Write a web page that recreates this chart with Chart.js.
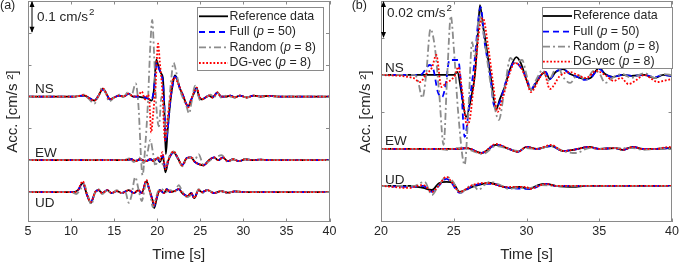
<!DOCTYPE html>
<html><head><meta charset="utf-8">
<script src="https://cdn.jsdelivr.net/npm/chart.js@4.4.1/dist/chart.umd.min.js"></script>
<style>
html,body{margin:0;padding:0;background:#fff;width:681px;height:264px;overflow:hidden}
.p{position:absolute;top:0}
</style></head><body>
<div class="p" style="left:0;width:340px;height:264px"><canvas id="ca" width="340" height="264"></canvas></div>
<div class="p" style="left:340px;width:341px;height:264px"><canvas id="cb" width="341" height="264"></canvas></div>
<script>
// ---------------- DATA ----------------
const seriesLabels = ['Reference data', 'Full (p = 50)', 'Random (p = 8)', 'DG-vec (p = 8)'];
const components = ['NS', 'EW', 'UD'];
const xTicksA = [5, 10, 15, 20, 25, 30, 35, 40];
const xTicksB = [20, 25, 30, 35, 40];
const offsetsA = [0.3, 0.1, 0];      // cm/s^2, vertical offset of NS, EW, UD traces
const offsetsB = [0.06, 0.02, 0];
const scaleBarA = 0.1;               // cm/s^2
const scaleBarB = 0.02;

// traces: [time (s), acceleration (1e-3 cm/s^2)]
// ---- panel (a) ----
const aNS_ref = [[5,0],[10.5,0],[11,2],[11.5,3],[12,-3],[12.7,-13],[13.2,3],[13.7,25],[14.1,9],[14.5,-9],[15,-3],[15.6,3],[16.1,0],[16.7,9],[17.2,0],[17.8,0],[18.3,-3],[18.9,-6],[19.35,-13],[19.6,16],[19.9,116],[20.15,94],[20.45,72],[20.65,60],[20.82,-30],[21.0,-181],[21.2,-109],[21.5,-22],[21.8,38],[22.05,66],[22.3,56],[22.6,28],[23.0,3],[23.35,-22],[23.6,-31],[23.9,-13],[24.3,13],[24.55,28],[24.85,0],[25.2,-9],[25.6,-3],[26.0,3],[26.4,-3],[27.0,13],[27.4,0],[28,0],[28.5,3],[29,-3],[29.6,3],[30.4,-3],[31.2,3],[32,0],[33,2],[34,0],[40,0]];
const aNS_full = [[5,0],[10.5,0],[11,2],[11.5,3],[12,-3],[12.7,-13],[13.2,3],[13.7,22],[14.1,9],[14.5,-9],[15,-3],[15.6,3],[16.1,0],[16.7,9],[17.2,0],[17.8,0],[18.3,0],[18.9,-6],[19.35,-9],[19.6,19],[19.95,106],[20.2,88],[20.5,66],[20.68,40],[20.85,-40],[21.0,-141],[21.25,-94],[21.5,-19],[21.8,38],[22.05,63],[22.3,56],[22.6,28],[23.0,3],[23.35,-22],[23.6,-31],[23.9,-13],[24.3,13],[24.55,25],[24.85,0],[25.2,-9],[25.6,-3],[26.0,3],[26.4,-3],[27.0,13],[27.4,0],[28,0],[28.5,3],[29,-3],[29.6,3],[30.4,-3],[31.2,3],[32,0],[33,2],[34,0],[40,0]];
const aNS_rand = [[5,0],[10.5,0],[11,3],[11.5,6],[12,-6],[12.7,-22],[13.2,3],[13.6,28],[14.1,6],[14.4,-16],[15,-3],[15.6,6],[16.1,0],[16.6,13],[17.0,3],[17.5,41],[17.8,-20],[18.3,-247],[18.6,-160],[18.9,-30],[19.2,160],[19.42,241],[19.65,125],[19.9,-31],[20.2,-94],[20.5,0],[20.7,-16],[21.0,-125],[21.3,-47],[21.6,47],[21.9,106],[22.2,78],[22.6,25],[23.0,-6],[23.4,-31],[23.7,-53],[24.0,-16],[24.4,34],[24.7,9],[25.0,-13],[25.4,-6],[25.8,0],[26.2,6],[26.6,-3],[27.0,13],[27.4,-3],[28,3],[28.5,0],[29,-3],[29.6,3],[30.4,-3],[31.2,3],[32,0],[34,0],[40,0]];
const aNS_dg = [[5,0],[10.5,0],[11,2],[11.5,5],[12,-3],[12.7,-13],[13.2,3],[13.7,25],[14.1,9],[14.5,-9],[15,-3],[15.6,3],[16.1,0],[16.7,9],[17.2,0],[17.8,3],[18.2,16],[18.6,-9],[18.9,6],[19.1,-16],[19.3,-113],[19.5,-63],[19.8,31],[20.1,166],[20.3,109],[20.6,16],[20.9,-138],[21.15,-84],[21.5,-9],[21.9,59],[22.25,50],[22.6,31],[23.0,3],[23.35,-22],[23.6,-34],[23.9,-13],[24.3,16],[24.6,28],[24.9,0],[25.2,-9],[25.6,-3],[26.0,3],[26.4,-3],[27.0,13],[27.4,0],[28,0],[28.5,3],[29,-3],[29.6,3],[30.4,-3],[31.2,3],[32,0],[33,2],[34,0],[40,0]];

const aEW_ref = [[5,0],[16,0],[17,3],[17.5,-3],[18,3],[18.7,-3],[19.2,3],[19.6,-3],[20.0,6],[20.3,-6],[20.65,13],[20.95,-38],[21.3,0],[21.9,25],[22.4,6],[22.9,-16],[23.4,6],[23.9,9],[24.4,-6],[24.9,-13],[25.4,-16],[26.0,0],[26.6,9],[27.1,0],[27.6,9],[28.2,-3],[28.8,3],[29.5,-3],[30.2,3],[31,0],[32,2],[33,0],[40,0]];
const aEW_full = [[5,0],[16,0],[17,3],[17.5,-3],[18,3],[18.7,-3],[19.2,3],[19.6,-3],[20.0,6],[20.3,-3],[20.65,16],[20.95,-28],[21.3,0],[21.9,25],[22.4,6],[22.9,-16],[23.4,6],[23.9,9],[24.4,-6],[24.9,-13],[25.4,-16],[26.0,0],[26.6,9],[27.1,0],[27.6,9],[28.2,-3],[28.8,3],[29.5,-3],[30.2,3],[31,0],[32,2],[33,0],[40,0]];
const aEW_rand = [[5,0],[16,0],[16.8,6],[17.3,-6],[17.9,9],[18.4,-9],[18.8,13],[19.2,63],[19.5,25],[19.8,-19],[20.1,9],[20.5,-6],[20.9,-22],[21.3,6],[21.9,28],[22.4,6],[22.9,-19],[23.4,3],[23.9,9],[24.4,3],[24.8,19],[25.4,-16],[26.0,-3],[26.6,6],[27.5,16],[28.2,-6],[28.8,3],[29.5,-3],[30.2,3],[31,0],[40,0]];
const aEW_dg = [[5,0],[16,0],[17,3],[17.5,-3],[18,3],[18.7,-3],[19.2,3],[19.6,-3],[20.0,9],[20.3,0],[20.6,25],[20.95,-28],[21.3,0],[21.9,28],[22.4,6],[22.9,-16],[23.4,6],[23.9,9],[24.4,-6],[24.9,-13],[25.4,-16],[26.0,0],[26.6,9],[27.1,0],[27.6,9],[28.2,-3],[28.8,3],[29.5,-3],[30.2,3],[31,0],[32,2],[33,0],[40,0]];

const aUD_ref = [[5,0],[10.3,0],[10.8,6],[11.35,28],[11.85,-9],[12.3,-34],[12.8,0],[13.2,6],[13.6,-3],[14.2,6],[14.7,-3],[15.3,3],[15.9,-3],[16.7,6],[17.3,-3],[17.8,6],[18.2,-3],[18.75,34],[19.1,6],[19.45,-25],[19.65,-50],[20.0,-13],[20.3,6],[20.8,-3],[21.1,9],[21.5,0],[22.0,3],[22.5,9],[22.9,-3],[23.5,-13],[23.95,-3],[24.3,-19],[24.8,6],[25.2,0],[25.8,6],[26.6,-3],[27.4,3],[28.2,-2],[29,2],[30,0],[40,0]];
const aUD_full = [[5,0],[10.3,0],[10.8,6],[11.35,28],[11.85,-9],[12.3,-31],[12.8,0],[13.2,6],[13.6,-3],[14.2,6],[14.7,-3],[15.3,3],[15.9,-3],[16.7,6],[17.3,-3],[17.8,6],[18.2,-3],[18.75,34],[19.1,6],[19.45,-25],[19.65,-44],[20.0,-13],[20.3,6],[20.8,-3],[21.1,9],[21.5,0],[22.0,3],[22.5,9],[22.9,-3],[23.5,-13],[23.95,-3],[24.3,-19],[24.8,6],[25.2,0],[25.8,6],[26.6,-3],[27.4,3],[28.2,-2],[29,2],[30,0],[40,0]];
const aUD_rand = [[5,0],[10.0,0],[10.6,-6],[11.1,9],[11.5,25],[11.9,-6],[12.35,-38],[12.8,0],[13.2,9],[13.6,-6],[14.2,6],[14.7,-6],[15.3,6],[15.9,-3],[16.3,0],[16.7,-34],[17.0,-13],[17.45,47],[17.85,6],[18.2,-28],[18.75,31],[19.1,9],[19.5,-47],[19.8,-25],[20.1,3],[20.5,9],[21.0,0],[21.5,6],[22.0,0],[22.5,22],[22.9,3],[23.5,-16],[24.0,-9],[24.3,-16],[24.8,9],[25.3,-3],[25.8,6],[26.6,-3],[27.4,3],[28.2,-2],[29,2],[30,0],[40,0]];
const aUD_dg = [[5,0],[10.3,0],[10.8,6],[11.35,34],[11.85,-9],[12.3,-31],[12.8,0],[13.2,6],[13.6,-3],[14.2,6],[14.7,-3],[15.3,3],[15.9,-3],[16.7,6],[17.3,-3],[17.8,6],[18.2,-3],[18.75,38],[19.1,6],[19.45,-25],[19.65,-41],[20.0,-13],[20.3,6],[20.8,-3],[21.1,9],[21.5,0],[22.0,3],[22.5,9],[22.9,-3],[23.5,-13],[23.95,-3],[24.3,-19],[24.8,6],[25.2,0],[25.8,6],[26.6,-3],[27.4,3],[28.2,-2],[29,2],[30,0],[40,0]];

// ---- panel (b) ----
const bNS_ref = [[20,0],[25.0,0],[25.25,1.6],[25.5,-8.1],[25.85,-22.7],[26.2,-11.9],[26.45,0],[26.65,21.6],[26.8,37.8],[27.0,27],[27.2,17.3],[27.6,-4.3],[27.9,-18.9],[28.15,-13.5],[28.5,-6.5],[28.8,1.6],[29.3,9.7],[29.6,6.5],[30.0,-2.7],[30.3,-8.1],[30.7,-3.8],[31.0,0],[31.3,1.6],[31.6,-2.2],[32.0,1.6],[32.5,3.2],[33.0,0.5],[33.5,-1.1],[34.0,-2.2],[34.4,-1.6],[35.0,3.8],[35.4,0.5],[35.9,-1.1],[36.6,0],[37.2,-0.5],[38.1,0],[38.8,-1.6],[39.4,0],[40,-0.5]];
const bNS_full = [[20,0],[22.7,0],[23.35,5.4],[23.6,3],[23.9,-9],[24.2,-11.9],[24.45,-5],[24.7,8.1],[25.0,8.1],[25.3,8.1],[25.5,-5],[25.75,-33.5],[26.1,-13.5],[26.4,5.4],[26.85,36.7],[27.1,18.9],[27.5,0],[27.8,-17.3],[28.15,-15],[28.6,-3.2],[29.2,7],[29.6,4],[30.0,-1.6],[30.3,-7.6],[30.7,-3],[31.0,0],[31.3,1.6],[31.6,-2.2],[32.0,1.6],[32.5,3.2],[33.0,0.5],[33.5,-1.1],[34.0,-2.7],[34.4,-1.6],[35.0,3.2],[35.4,0.5],[35.9,-1.1],[36.6,0],[37.2,-0.5],[38.1,0],[38.8,-1.1],[39.4,0],[40,-0.5]];
const bNS_rand = [[20,0],[22.3,0],[22.5,-2],[22.85,-12.4],[23.1,0],[23.4,24.8],[23.7,15],[24.0,-10],[24.3,-37.8],[24.55,0],[24.8,31.9],[25.0,15],[25.3,-20],[25.75,-48.6],[26.0,-20],[26.26,17.8],[26.45,10],[26.8,32.4],[27.0,25],[27.3,8],[27.6,-8],[28.1,-24.3],[28.45,-10],[28.9,9.2],[29.2,6.5],[29.7,8.1],[30.0,0],[30.3,-8.1],[30.7,-2],[31.1,2.7],[31.5,-3],[32.1,4.3],[32.6,-2],[33.0,-4.3],[33.5,0],[34.1,-2.7],[34.6,2.2],[35.0,1],[35.4,-4.3],[36.0,-1],[36.6,0.5],[37.2,-1.6],[38.1,1],[38.8,-1.6],[39.4,0.5],[40,0]];
const bNS_dg = [[20,0],[22.2,-1.6],[22.7,-3.8],[23.1,0.5],[23.5,4],[23.8,10.8],[24.15,-6.5],[24.5,-4],[24.8,-2.7],[25.1,0],[25.3,4.3],[25.6,-9.7],[25.9,-27],[26.1,-24],[26.4,-3],[26.8,27],[27.0,30.8],[27.35,16],[27.7,-4.3],[28.0,-20],[28.4,-11.3],[28.8,0],[29.2,6.5],[29.6,4.3],[30.0,-3],[30.3,-9.2],[30.9,-1.6],[31.2,1.6],[31.6,-7.6],[32.3,-0.5],[33.0,1.6],[33.5,0],[34.1,-1.6],[34.8,2.2],[35.4,0],[36.0,-3.2],[36.5,-1.6],[37.0,-4.9],[37.5,-3],[38.1,0],[38.5,-1.6],[39.0,-3.8],[39.5,-3],[40,-2.2]];

const bEW_ref = [[20,0],[25.2,0],[25.9,0.5],[26.9,-2.2],[27.9,2.2],[28.8,0],[29.4,-1.6],[30.0,1.1],[30.7,0],[31.7,1.6],[32.5,-1.1],[33.2,-0.5],[34.3,1.1],[35.0,0],[36.1,0.5],[36.6,-0.5],[37.3,1.1],[38.0,0],[38.9,0],[39.8,0.5],[40,0.5]];
const bEW_full = [[20,0],[25.2,0],[25.9,0.5],[26.9,-2.2],[27.9,2.2],[28.8,0],[29.4,-1.6],[30.0,1.1],[30.7,0],[31.7,1.6],[32.5,-1.1],[33.2,-0.5],[34.3,1.1],[35.0,0],[36.1,0.5],[36.6,-0.5],[37.3,1.1],[38.0,0],[38.9,0],[39.8,0.5],[40,0.5]];
const bEW_rand = [[20,0],[24,0],[24.5,-0.5],[25.2,0.5],[25.9,0],[27.0,-2.7],[27.9,1.6],[28.8,0],[29.4,-1.1],[30.0,0.5],[30.7,0],[31.7,1.6],[32.5,-1.1],[33.4,-2.2],[34.3,0.5],[35.0,0],[36.1,0.5],[37.3,0.5],[38.0,-0.5],[39,0],[40,0]];
const bEW_dg = [[20,0],[25.2,0],[25.9,0.5],[26.9,-2.2],[27.9,2.7],[28.8,0],[29.4,-1.6],[30.0,1.1],[30.7,0],[31.7,2.2],[32.5,-1.1],[33.2,-0.5],[34.3,1.1],[35.0,0],[36.1,0.5],[36.6,-0.5],[37.3,1.1],[38.0,0],[38.9,0],[39.8,1.1],[40,0.5]];

const bUD_ref = [[20,0],[22,0],[22.45,-0.5],[22.9,-1.1],[23.5,-2.2],[24.0,1.6],[24.5,2.2],[24.96,1.6],[25.4,-3.2],[26.1,-1],[27.0,1.1],[27.5,1.6],[28.2,0],[28.8,-1.1],[29.5,-0.5],[30.2,-1.6],[30.8,0.5],[31.35,1.1],[32,0],[33.4,-0.5],[34,0],[40,0]];
const bUD_full = [[20,0],[22,-0.5],[22.9,0],[23.5,-3.2],[23.9,-0.5],[24.5,3.8],[24.8,2.2],[25.4,-3.8],[26.3,0],[27.0,1.1],[27.7,1.1],[28.4,-0.5],[30.2,-1.6],[31.35,1.1],[32,0],[40,0]];
const bUD_rand = [[20,0],[22.3,0],[22.7,1.6],[23.0,2.2],[23.5,-4.9],[23.9,-0.5],[24.5,4.9],[24.96,2.2],[25.2,-1.6],[25.4,-3.8],[26.3,0.5],[26.7,-2.2],[27.1,0.5],[27.5,2.2],[28.2,0.5],[28.8,-1.6],[29.3,-1.1],[30.2,-1.1],[31.0,0.5],[32,0],[40,0]];
const bUD_dg = [[20,0],[22,-1.1],[22.45,0],[22.9,0.5],[23.5,-3.2],[23.9,-0.5],[24.5,4.9],[24.8,2.7],[25.4,-3.2],[26.3,0.5],[27.0,1.6],[27.7,1.1],[28.4,-0.5],[30.0,-0.5],[30.2,-1.6],[31.35,1.1],[32,0],[40,0]];

// ---------------- STYLE / LAYOUT ----------------
const FONT = '"Liberation Sans", Arial, Helvetica, sans-serif';
const AXIS = '#8a8a8a';
const TXT = '#262626';
const styles = [
  {color:'#000000', dash:[], width:1.8, order:4},
  {color:'#0000ff', dash:[6,4], width:1.8, order:3},
  {color:'#8c8c8c', dash:[7,3,2,3], width:1.8, order:2},
  {color:'#ff0000', dash:[1.8,1.8], width:1.8, order:1}
];

function drawRich(ctx, label, x, y, size) {
  const m = label.match(/^(.*\()p( = .*)$/);
  ctx.fillStyle = TXT; ctx.textBaseline = 'middle'; ctx.textAlign = 'left';
  if (!m) { ctx.font = size + 'px ' + FONT; ctx.fillText(label, x, y); return; }
  ctx.font = size + 'px ' + FONT; ctx.fillText(m[1], x, y); x += ctx.measureText(m[1]).width;
  ctx.font = 'italic ' + size + 'px ' + FONT; ctx.fillText('p', x, y); x += ctx.measureText('p').width;
  ctx.font = size + 'px ' + FONT; ctx.fillText(m[2], x, y);
}
function drawSup(ctx, base, sup, x, y, size) {
  ctx.fillStyle = TXT; ctx.textBaseline = 'middle'; ctx.textAlign = 'left';
  ctx.font = size + 'px ' + FONT; ctx.fillText(base, x, y);
  const w = ctx.measureText(base).width;
  ctx.font = (size * 0.72) + 'px ' + FONT; ctx.fillText(sup, x + w + 1, y - size * 0.36);
}

const decorPlugin = {
  id: 'decor',
  afterDatasetsDraw(chart, args, o) {
    const ctx = chart.ctx, ca = chart.chartArea, xs = chart.scales.x, ys = chart.scales.y;
    ctx.save();
    // box + inward ticks
    ctx.strokeStyle = AXIS; ctx.lineWidth = 1; ctx.setLineDash([]);
    ctx.strokeRect(Math.round(ca.left) + 0.5, Math.round(ca.top) + 0.5, Math.round(ca.right - ca.left) - 1, Math.round(ca.bottom - ca.top) - 1);
    ctx.beginPath();
    xs.ticks.forEach(t => { const px = Math.round(xs.getPixelForValue(t.value)) + 0.5;
      ctx.moveTo(px, ca.bottom); ctx.lineTo(px, ca.bottom - 3.5); ctx.moveTo(px, ca.top); ctx.lineTo(px, ca.top + 3.5); });
    ys.ticks.forEach(t => { const py = Math.round(ys.getPixelForValue(t.value)) + 0.5;
      ctx.moveTo(ca.left, py); ctx.lineTo(ca.left + 3.5, py); ctx.moveTo(ca.right, py); ctx.lineTo(ca.right - 3.5, py); });
    ctx.stroke();
    // component labels
    ctx.fillStyle = TXT; ctx.font = o.compSize + 'px ' + FONT; ctx.textBaseline = 'middle'; ctx.textAlign = 'left';
    components.forEach((c, i) => ctx.fillText(c, o.compX, o.compY[i]));
    // scale bar
    const y1 = ys.getPixelForValue(ys.max), y2 = ys.getPixelForValue(ys.max - o.scaleBar);
    ctx.strokeStyle = '#000'; ctx.fillStyle = '#000'; ctx.lineWidth = 1;
    ctx.beginPath(); ctx.moveTo(o.barX, y1 + 1); ctx.lineTo(o.barX, y2 - 1); ctx.stroke();
    ctx.beginPath(); ctx.moveTo(o.barX, y1); ctx.lineTo(o.barX - 2.5, y1 + 6); ctx.lineTo(o.barX + 2.5, y1 + 6); ctx.closePath(); ctx.fill();
    ctx.beginPath(); ctx.moveTo(o.barX, y2); ctx.lineTo(o.barX - 2.5, y2 - 6); ctx.lineTo(o.barX + 2.5, y2 - 6); ctx.closePath(); ctx.fill();
    drawSup(ctx, o.scaleText, '2', o.textX, o.textY, o.textSize);
    // legend
    const L = o.legend;
    ctx.fillStyle = '#fff'; ctx.fillRect(L.x, L.y, L.w, L.h);
    ctx.strokeStyle = AXIS; ctx.lineWidth = 1; ctx.strokeRect(L.x + 0.5, L.y + 0.5, L.w, L.h);
    seriesLabels.forEach((lab, i) => {
      const st = styles[i], yy = L.rows[i];
      ctx.strokeStyle = st.color; ctx.lineWidth = st.width; ctx.setLineDash(st.dash);
      ctx.beginPath(); ctx.moveTo(L.sx1, yy); ctx.lineTo(L.sx2, yy); ctx.stroke();
      ctx.setLineDash([]);
      drawRich(ctx, lab, L.tx, yy, L.size);
    });
    // panel letter
    ctx.fillStyle = TXT; ctx.font = o.letterSize + 'px ' + FONT; ctx.textBaseline = 'middle'; ctx.textAlign = 'left';
    ctx.fillText(o.letter, o.letterX, o.letterY);
    ctx.restore();
  }
};

function buildChart(id, p) {
  const datasets = [];
  p.series.forEach((comp, ci) => comp.forEach((arr, si) => {
    const st = styles[si];
    datasets.push({
      label: seriesLabels[si] + ' ' + components[ci],
      data: arr.map(d => ({x: d[0], y: d[1] / 1000 + p.offsets[ci]})),
      borderColor: st.color, borderDash: st.dash, borderWidth: st.width,
      pointRadius: 0, fill: false, cubicInterpolationMode: 'monotone', order: st.order
    });
  }));
  return new Chart(document.getElementById(id), {
    type: 'line',
    data: {datasets},
    plugins: [decorPlugin],
    options: {
      responsive: false, animation: false, devicePixelRatio: 1,
      layout: {padding: {top: 1, right: p.padRight, left: 0, bottom: 0}},
      plugins: {legend: {display: false}, tooltip: {enabled: false}, decor: p.decor},
      scales: {
        x: {type: 'linear', min: p.xmin, max: p.xmax,
            afterBuildTicks: s => { s.ticks = p.xTicks.map(v => ({value: v})); },
            afterFit: s => { s.height = 42; },
            grid: {display: false, drawTicks: false}, border: {display: false},
            ticks: {autoSkip: false, maxRotation: 0, padding: 2, color: TXT, font: {family: FONT, size: 12.5}},
            title: {display: true, text: 'Time [s]', color: TXT, font: {family: FONT, size: 15}, padding: {top: 0, bottom: 0}}},
        y: {type: 'linear', min: p.ymin, max: p.ymax,
            afterFit: s => { s.width = p.yWidth; },
            grid: {display: false, drawTicks: false}, border: {display: false},
            ticks: {display: false, stepSize: p.ystep, includeBounds: false},
            title: {display: true, text: 'Acc. [cm/s ²]', color: TXT, font: {family: FONT, size: 15}, padding: {top: p.yTitlePad, bottom: 0}}}
      }
    }
  });
}

buildChart('ca', {
  xmin: 5, xmax: 40, xTicks: xTicksA, ymin: -0.094, ymax: 0.6, ystep: 0.1, offsets: offsetsA,
  series: [[aNS_ref, aNS_full, aNS_rand, aNS_dg], [aEW_ref, aEW_full, aEW_rand, aEW_dg], [aUD_ref, aUD_full, aUD_rand, aUD_dg]],
  yWidth: 28, padRight: 10.5, yTitlePad: 3.5,
  decor: {compX: 35, compY: [89, 153.5, 203], compSize: 13.5, scaleBar: scaleBarA, barX: 32, scaleText: '0.1 cm/s', textX: 37, textY: 17, textSize: 13.5,
    legend: {x: 197, y: 7, w: 126, h: 63, rows: [16.3, 32, 47.3, 63], sx1: 199, sx2: 228, tx: 229.5, size: 12.4},
    letter: '(a)', letterX: 0, letterY: 6, letterSize: 12.5}
});
buildChart('cb', {
  xmin: 20, xmax: 40, xTicks: xTicksB, ymin: -0.0195, ymax: 0.1, ystep: 0.02, offsets: offsetsB,
  series: [[bNS_ref, bNS_full, bNS_rand, bNS_dg], [bEW_ref, bEW_full, bEW_rand, bEW_dg], [bUD_ref, bUD_full, bUD_rand, bUD_dg]],
  yWidth: 41, padRight: 7.5, yTitlePad: 16.5,
  decor: {compX: 45, compY: [68, 141, 180], compSize: 13.5, scaleBar: scaleBarB, barX: 43.5, scaleText: '0.02 cm/s', textX: 47, textY: 13, textSize: 13.5,
    legend: {x: 202, y: 7, w: 130, h: 61, rows: [16, 31.7, 46.7, 61.7], sx1: 203, sx2: 232, tx: 233, size: 12.4},
    letter: '(b)', letterX: 11.7, letterY: 6, letterSize: 12.5}
});
</script></body></html>
